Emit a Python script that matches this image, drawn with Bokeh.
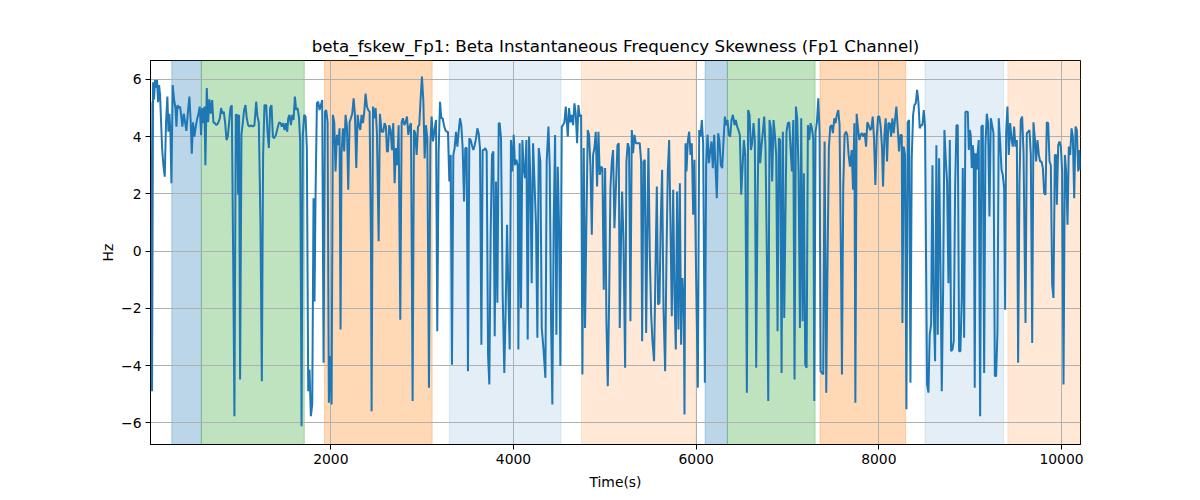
from bokeh.plotting import figure
from bokeh.models import Range1d, FixedTicker, BoxAnnotation
from bokeh.embed import file_html
from bokeh.resources import INLINE

# ---------------- data ----------------
time_s = [
    25, 42, 53, 64, 75, 86, 97, 108, 119, 130, 141, 152, 166, 181, 195, 210, 221, 232, 243, 254,
    268, 283, 298, 309, 320, 334, 349, 360, 374, 389, 404, 418, 433, 451, 466, 477, 491, 506, 521, 535,
    550, 564, 579, 590, 601, 616, 626, 641, 656, 670, 685, 700, 714, 729, 747, 765, 784, 798, 813, 827,
    842, 857, 871, 886, 900, 915, 930, 944, 959, 974, 984, 995, 1006, 1021, 1036, 1050, 1065, 1079, 1094, 1109,
    1127, 1145, 1163, 1182, 1196, 1211, 1229, 1244, 1258, 1273,
    1292, 1306, 1321, 1335, 1350, 1365, 1379, 1398, 1416, 1434, 1449, 1463, 1478, 1493, 1507, 1522, 1533, 1547,
    1562, 1577, 1591, 1606, 1620, 1635, 1650, 1664, 1679, 1693, 1708, 1723, 1737, 1752, 1766, 1781, 1796, 1810,
    1821, 1832, 1847, 1861, 1876, 1891, 1905, 1920, 1935, 1949, 1964, 1978, 1993, 2008, 2022, 2037, 2051, 2066,
    2081, 2095, 2106, 2117, 2132, 2146, 2161, 2176, 2190, 2205, 2219, 2234, 2249, 2263, 2278, 2293, 2307, 2322,
    2336, 2351, 2366, 2380, 2395, 2409, 2424, 2439, 2446, 2461, 2475, 2490, 2504, 2523, 2537, 2556,
    2574, 2588, 2603, 2614, 2625, 2639, 2654, 2669, 2683, 2698, 2712, 2727, 2742, 2760, 2775, 2789, 2804, 2818,
    2833, 2848, 2862, 2877, 2895, 2910, 2924, 2939, 2954, 2968, 2983, 2997, 3012, 3027, 3041, 3056, 3074, 3089,
    3103, 3118, 3132, 3151, 3165, 3180, 3195, 3209, 3224, 3238, 3253, 3268, 3282, 3297, 3312, 3326, 3341, 3355,
    3370, 3385, 3399, 3414, 3428, 3443, 3458, 3472, 3487, 3501, 3516, 3531, 3545, 3560, 3575, 3589, 3604, 3618,
    3633, 3648, 3662, 3677, 3691, 3706, 3721, 3735, 3750, 3764, 3779, 3794, 3808, 3823, 3838,
    3848, 3863, 3881, 3899, 3914, 3929, 3943, 3958, 3972, 3987, 4002, 4016, 4031, 4046, 4053, 4067, 4082, 4097,
    4111, 4126, 4141, 4155, 4170, 4184, 4199, 4214, 4228, 4246, 4261, 4276, 4294, 4309, 4327, 4349, 4363, 4382,
    4396, 4411, 4425, 4440, 4455, 4469, 4484, 4499, 4513, 4528, 4542, 4557, 4572, 4586, 4594, 4608, 4623, 4637,
    4652, 4667, 4681, 4696, 4710, 4725, 4740, 4754, 4769, 4783, 4798, 4813, 4827, 4842, 4857, 4871, 4886, 4900,
    4915, 4930, 4944, 4959, 4973, 4988, 5003, 5017, 5032, 5046, 5061, 5076, 5090, 5105,
    5138, 5152, 5163, 5178, 5189, 5203, 5222, 5236, 5251, 5265, 5280, 5295, 5309, 5324, 5339, 5353, 5368, 5382,
    5397, 5408, 5423, 5437, 5452, 5466, 5477, 5492, 5507, 5521, 5539, 5554, 5569, 5583, 5598, 5612, 5627, 5642,
    5660, 5675, 5689, 5704, 5718, 5733, 5748, 5762, 5777, 5791, 5806, 5821, 5835, 5850, 5865, 5872, 5883, 5894,
    5908, 5923, 5938, 5952, 5967, 5981, 6000, 6018, 6033, 6047, 6062, 6076, 6095, 6109, 6124, 6139, 6153, 6168,
    6182, 6197, 6212, 6226, 6241, 6255, 6270, 6285, 6299, 6314, 6328, 6343, 6358, 6372, 6387, 6402,
    6420, 6434, 6449, 6463, 6478, 6493, 6507, 6522, 6537, 6555, 6569, 6584, 6599, 6613, 6628, 6642, 6657, 6672,
    6686, 6701, 6716, 6730, 6745, 6759, 6774, 6789, 6803, 6818, 6832, 6847, 6862, 6876, 6891, 6905, 6920, 6935,
    6949, 6964, 6979, 6989, 7004, 7019, 7033, 7048, 7063, 7077, 7092, 7106, 7121, 7136, 7150, 7165, 7179, 7194,
    7209, 7223, 7238, 7252, 7267, 7282, 7293, 7307, 7322, 7337, 7351, 7362, 7377, 7391, 7406, 7424, 7439, 7453,
    7468, 7483, 7497, 7512, 7526, 7541, 7556, 7570, 7585, 7596, 7610, 7625, 7640, 7654, 7669, 7684,
    7703, 7717, 7732, 7743, 7757, 7772, 7787, 7801, 7816, 7830, 7845, 7860, 7874, 7889, 7904, 7918, 7933, 7947,
    7962, 7977, 7991, 8006, 8020, 8035, 8046, 8061, 8075, 8090, 8104, 8119, 8134, 8148, 8163, 8177, 8192, 8207,
    8221, 8236, 8251, 8258, 8272, 8287, 8302, 8316, 8331, 8346, 8360, 8375, 8389, 8404, 8419, 8433, 8448, 8462,
    8477, 8492, 8506, 8517, 8528, 8543, 8557, 8572, 8587, 8601, 8616, 8630, 8645, 8660, 8674, 8689, 8704, 8718,
    8733, 8747, 8762, 8777, 8791, 8806, 8820, 8835, 8850, 8864, 8879, 8893, 8908, 8919, 8934, 8948,
    8959, 8974, 8985, 8996, 9006, 9017, 9028, 9039, 9050, 9061, 9072, 9083, 9094, 9109, 9123, 9138, 9153, 9167,
    9182, 9196, 9211, 9226, 9240, 9255, 9270, 9284, 9299, 9313, 9328, 9343, 9357, 9372, 9383, 9394, 9408, 9423,
    9438, 9452, 9467, 9481, 9496, 9511, 9525, 9540, 9554, 9569, 9584, 9606, 9620, 9635, 9649, 9664, 9679, 9693,
    9708, 9722, 9737, 9752, 9766, 9781, 9796, 9810, 9825, 9839, 9854, 9869, 9883, 9898, 9912, 9927, 9942, 9949,
    9964, 9978, 9993, 10007, 10022, 10037, 10051, 10066, 10080, 10095, 10110, 10124, 10139, 10154, 10168, 10183,
    10197, 10208,
]

beta_fskew_fp1 = [
    5.22, -4.9, 5.9, 5.3, 5.98, 5.7, 5.98, 5.2, 5.8, 5.45, 4.5, 3.6, 3.0, 2.6, 4.5, 5.4, 4.17, 4.8, 4.17, 2.37,
    5.8, 5.3, 5.0, 4.35, 5.1, 5.0, 5.05, 4.76, 4.35, 4.8, 4.5, 4.2, 4.8, 5.4, 4.47, 3.4, 4.5, 4.0, 4.35, 4.6,
    4.8, 5.05, 4.05, 5.0, 4.47, 5.05, 3.0, 5.7, 4.5, 5.3, 4.8, 5.28, 4.5, 4.47, 4.4, 4.47, 4.64, 5.0, 4.8, 4.87,
    4.5, 3.88, 4.0, 4.5, 5.0, 5.1, -0.13, -5.77, 4.76, 4.76, 1.97, 4.76, -4.49, 4.06, 4.5, 4.93, 5.1, 4.64, 4.4, 4.35,
    4.4, 4.35, 4.4, 5.22, 4.7, 4.5, 1.0, -4.55, 3.36, 5.1,
    5.1, 4.17, 3.6, 5.0, 5.1, 4.0, 3.94, 4.06, 4.29, 4.5, 4.47, 4.35, 4.47, 4.23, 4.47, 4.17, 4.64, 4.76,
    4.4, 4.76, 4.58, 5.4, 4.93, 5.0, 4.7, 3.83, -6.12, 4.06, 4.76, 4.7, 3.6, -4.9, -4.14, -5.77, -5.36, 1.85,
    -1.76, 1.9, 5.16, 5.22, 4.93, 5.1, 5.28, -3.9, 4.87, 4.93, 4.5, -5.3, -3.67, -5.36, 4.76, 4.5, 2.78, 4.06,
    3.7, 4.29, -2.74, 3.42, 4.29, 3.48, 4.76, 4.35, 2.14, 4.5, 4.64, 4.8, 5.34, 4.8, 2.9, 4.76, 4.4, 4.23,
    4.76, 4.47, 4.87, 5.5, 5.05, 4.93, 4.87, 0.34, -5.6, 5.05, 4.64, 5.0, 4.17, 0.34, 4.8, 4.17,
    4.17, 4.47, 4.35, 3.48, 3.48, 4.4, 4.23, 3.53, 4.47, 2.37, 3.6, 3.0, 4.4, -2.4, 4.5, 4.64, 4.4, 4.5,
    4.7, 4.06, 4.35, 4.47, -5.24, 4.23, 4.12, 3.36, 4.35, 4.4, 5.34, 6.1, 5.28, 3.24, 4.4, 3.94, -4.78, 3.7,
    4.7, 3.83, 4.17, 4.58, -2.8, 3.48, 5.22, 4.64, 4.64, 4.4, 4.23, 4.17, 4.17, 2.43, 3.36, -3.97, 3.36, 3.6,
    4.17, 3.65, 4.17, 4.64, 4.4, 3.6, 1.73, 3.6, 3.6, -4.2, 3.94, 3.88, 3.7, 3.53, 3.7, 3.94, 4.29, 4.12,
    3.6, -3.27, 3.53, 3.53, 3.6, 3.48, -3.62, -4.66, 0.69, 3.36, 3.48, -2.98, 2.43, -1.81, 4.47,
    4.47, 3.94, -1.52, -4.26, -1.99, 0.92, -1.29, -3.44, 3.88, 2.78, 4.06, 3.0, 3.19, 3.0, -3.44, 3.77, -1.99, 3.88,
    2.9, 2.55, 3.88, -3.09, 4.0, 2.55, -1.12, 3.77, 2.55, 0.92, -3.03, 3.6, 3.13, -2.69, -3.38, -4.43, 3.13, 4.35,
    3.0, -2.45, -5.36, 1.03, 4.06, -2.92, 2.95, 0.8, -4.02, 4.35, 4.4, 4.5, 5.05, 4.4, 4.0, 5.0, 4.5, 4.76,
    4.4, 5.16, 4.8, 3.77, 5.1, 4.7, 4.76, -4.31, 3.6, -2.69, 1.03, 4.23, 4.06, 3.0, 0.57, 3.36, 3.6, 4.17,
    2.26, 4.17, 2.66, 2.95, 2.9, -1.35, 2.9, -2.45, -4.72, -1.87, 2.2, 3.13, 3.53, 0.8,
    3.7, 3.77, -2.69, 0.57, 2.08, 0.45, -4.08, 3.13, 3.77, 3.6, -2.45, 4.23, 3.42, 4.06, 3.77, 3.77, 3.77, 3.77,
    3.13, -3.15, 3.13, 3.19, -2.86, 1.03, 3.6, -0.13, -2.22, -3.15, -3.85, -0.71, 2.26, -1.87, -1.81, 1.03, 2.84, -1.99,
    -4.2, -0.13, 2.78, 3.88, 1.03, -2.28, 2.14, -1.52, -3.44, 2.08, -2.74, 2.37, -3.27, -0.94, -2.1, -5.71, 3.77, 2.78,
    3.83, 4.17, 3.36, 3.77, 1.27, 3.19, -1.06, -4.78, 4.23, 4.0, 4.58, 3.77, -4.6, 3.0, 4.06, 3.07, 3.48, 3.83,
    2.9, 4.06, 2.9, 1.85, 4.12, 3.83, 3.0, 2.9, 3.83, 4.7, 4.4, 4.58, 4.06, 4.0, 4.58, 4.76,
    4.4, 4.58, 4.35, 4.23, 4.06, 1.97, 2.9, 3.88, 3.36, -4.95, 4.93, 4.76, 3.53, 3.77, 4.47, 3.88, -4.08, 1.85,
    4.64, 3.07, 3.7, 4.17, 4.7, 3.6, -0.13, -5.24, 4.58, 4.29, 2.43, 4.58, 4.06, 3.36, -2.8, 3.94, 3.88, -4.26,
    4.17, -2.34, 1.62, 4.17, 4.47, 4.5, 3.6, 2.78, 4.58, -4.49, 5.05, 4.64, 2.78, -2.69, 4.64, -2.45, 2.72, -3.97,
    -4.08, 4.4, 3.88, 4.47, 4.29, 3.94, -5.24, 4.17, 4.5, 5.34, 4.17, -4.2, -4.26, -4.31, 3.83, -4.95, -0.13, 3.6,
    4.35, 4.4, 4.12, 4.64, 4.47, 4.76, 4.93, 4.4, -0.13, -4.31, 2.2, 4.06, 4.17, 4.06, 3.36, 2.95,
    3.53, 2.14, 4.47, -5.3, 4.8, 4.29, 3.88, 4.06, 4.12, 4.0, 4.12, 3.65, 4.5, 4.4, 4.23, 4.29, 4.7, 3.94,
    2.31, 4.0, 4.7, 4.7, 4.35, 3.6, 2.26, 4.06, 4.64, 3.13, 4.47, 4.47, 4.0, 4.64, 4.12, 4.58, 5.05, 4.29,
    3.48, 4.06, 4.06, -2.51, 3.65, 3.36, -5.53, 4.5, 4.58, -4.6, 3.24, 4.76, 5.1, 5.16, 5.63, 5.22, 4.29, 4.4,
    4.4, 4.93, 4.35, -0.3, -4.66, -4.95, -2.92, -2.57, 3.0, -2.1, -3.85, 3.7, -2.92, 3.24, -0.36, -4.9, -1.29, 4.23,
    3.19, 2.43, -1.12, 3.88, -3.5, -3.44, -3.15, 2.2, 4.4, 4.4, -3.5, -3.5, -1.64, 2.9, -3.03, 4.87,
    4.87, 4.87, 3.53, 4.23, 4.06, 2.9, 3.7, 3.36, -4.78, 3.42, 2.84, 3.48, 3.88, -5.77, 4.35, 4.4, -4.26, 3.7,
    4.8, 4.47, 1.21, 4.64, 4.4, 4.12, -4.37, -4.37, -2.8, 4.64, 3.83, 2.84, 2.66, 2.2, -2.05, 4.17, 5.05, 3.36,
    4.47, 3.94, 3.65, 4.35, 3.65, 3.88, -3.9, 2.43, 4.58, 4.7, 3.48, -2.51, 4.12, 4.17, 4.23, 3.36, -3.21, 4.5,
    3.94, 3.13, 3.88, 3.36, 3.13, 3.13, 2.9, 2.02, 1.97, 4.5, 4.47, 3.13, 3.0, -1.17, -1.64, 3.36, 3.36, 1.62,
    3.7, 3.83, 3.65, 2.78, -4.66, 3.36, 2.78, 0.92, 3.65, 3.36, 4.29, 4.0, 1.85, 4.35, 4.23, 2.78,
    3.53, 2.84,
]

# shaded segments (start, end in seconds) and their kind
seg_start = [258, 582, 1931, 3298, 4745, 6098, 6342, 7356, 8505, 9413]
seg_end = [582, 1709, 3109, 4520, 5995, 6342, 7302, 8294, 9366, 10208]
seg_kind = ["blue", "green", "orange", "lightblue", "lightorange",
            "blue", "green", "orange", "lightblue", "lightorange"]

x_ticks = [2000, 4000, 6000, 8000, 10000]
y_ticks = [-6, -4, -2, 0, 2, 4, 6]
y_tick_labels = ["\u22126", "\u22124", "\u22122", "0", "2", "4", "6"]

title_text = "beta_fskew_Fp1: Beta Instantaneous Frequency Skewness (Fp1 Channel)"
x_label = "Time(s)"
y_label = "Hz"

# ---------------- styles ----------------
kind_style = {
    "blue": ("#1f77b4", 0.3),
    "green": ("#2ca02c", 0.3),
    "orange": ("#ff7f0e", 0.3),
    "lightblue": ("#1f77b4", 0.12),
    "lightorange": ("#ff7f0e", 0.17),
}
FONT = "DejaVu Sans"

p = figure(
    width=1192, height=492,
    x_range=Range1d(time_s[0], time_s[-1]),
    y_range=Range1d(-6.76, 6.66),
    output_backend="svg", toolbar_location=None,
    min_border_left=150, min_border_right=112,
    min_border_top=60, min_border_bottom=47,
)
p.background_fill_color = "white"
p.border_fill_color = "white"
p.outline_line_color = "black"
p.outline_line_width = 1

for s, e, k in zip(seg_start, seg_end, seg_kind):
    c, a = kind_style[k]
    box = BoxAnnotation(left=s, right=e, fill_color=c, fill_alpha=a,
                        line_color=c, line_alpha=a, line_width=1, level="image")
    p.add_layout(box)

p.line(time_s, beta_fskew_fp1, line_color="#1f77b4", line_width=2)

# title
p.title.text = title_text
p.title.align = "center"
p.title.text_font = FONT
p.title.text_font_size = "16.7px"
p.title.text_font_style = "normal"
p.title.text_color = "black"
p.title.standoff = 9

# axes
for ax in (p.xaxis[0], p.yaxis[0]):
    ax.axis_line_color = "black"
    ax.major_tick_line_color = "black"
    ax.minor_tick_line_color = None
    ax.major_tick_in = 0
    ax.major_tick_out = 5
    ax.major_label_text_font = FONT
    ax.major_label_text_font_size = "13.9px"
    ax.major_label_text_color = "black"
    ax.major_label_standoff = 4
    ax.axis_label_text_font = FONT
    ax.axis_label_text_font_size = "13.9px"
    ax.axis_label_text_font_style = "normal"
    ax.axis_label_text_color = "black"

p.xaxis[0].axis_label_standoff = 7
p.yaxis[0].axis_label_standoff = 2

p.xaxis.ticker = FixedTicker(ticks=x_ticks)
p.yaxis.ticker = FixedTicker(ticks=y_ticks)
p.yaxis.major_label_overrides = {float(t): lab for t, lab in zip(y_ticks, y_tick_labels)}
p.xaxis.axis_label = x_label
p.yaxis.axis_label = y_label

p.xgrid.grid_line_color = "#b0b0b0"
p.ygrid.grid_line_color = "#b0b0b0"
p.xgrid.grid_line_width = 1
p.ygrid.grid_line_width = 1

open("out.html", "w").write(file_html(p, INLINE))
